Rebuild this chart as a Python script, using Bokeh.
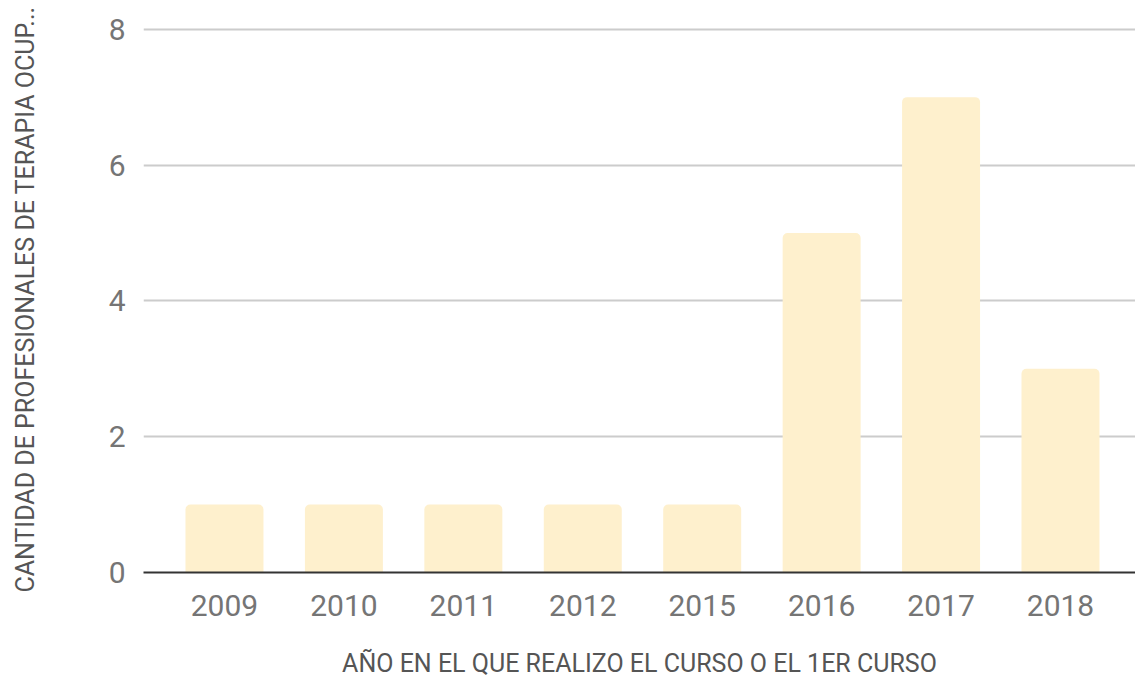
from bokeh.plotting import figure
from bokeh.models import Range1d, FixedTicker, ColumnDataSource
from bokeh.embed import file_html
from bokeh.resources import INLINE

years = ["2009", "2010", "2011", "2012", "2015", "2016", "2017", "2018"]
counts = [1, 1, 1, 1, 1, 5, 7, 3]
y_ticks = [0, 2, 4, 6, 8]
x_title = "AÑO EN EL QUE REALIZO EL CURSO O EL 1ER CURSO"
y_title = "CANTIDAD DE PROFESIONALES DE TERAPIA OCUP..."

idx = list(range(len(years)))
src = ColumnDataSource(dict(x=idx, top=counts, year=years))

p = figure(width=1135, height=680, output_backend="svg", toolbar_location=None,
           x_range=Range1d(-0.678, len(years) - 1 + 0.628), y_range=Range1d(0, 8.04),
           min_border_left=143, min_border_right=0, min_border_top=26, min_border_bottom=108)
p.outline_line_color = None
p.background_fill_color = "white"
p.border_fill_color = "white"

p.vbar(x="x", top="top", width=0.653, bottom=0, source=src,
       fill_color="#FEF0CD", line_color=None, border_radius=(5, 5, 0, 0))

font = "Roboto"
p.xaxis.ticker = FixedTicker(ticks=idx)
p.xaxis.major_label_overrides = {i: y for i, y in zip(idx, years)}
p.yaxis.ticker = FixedTicker(ticks=y_ticks)
for ax in (p.xaxis[0], p.yaxis[0]):
    ax.major_tick_line_color = None
    ax.minor_tick_line_color = None
    ax.major_label_text_font = font
    ax.major_label_text_font_size = "30px"
    ax.major_label_text_color = "#757575"
    ax.axis_label_text_font = font
    ax.axis_label_text_font_size = "25px"
    ax.axis_label_text_font_style = "normal"
    ax.axis_label_text_color = "#555555"
p.xaxis.axis_line_color = "#333333"
p.xaxis.axis_line_width = 2
p.yaxis.axis_line_color = None
p.xaxis.major_label_standoff = 16
p.yaxis.major_label_standoff = 12
p.xaxis.axis_label = x_title
p.yaxis.axis_label = y_title
p.xaxis.axis_label_standoff = 30
p.yaxis.axis_label_standoff = 66

p.xgrid.grid_line_color = None
p.ygrid.grid_line_color = "#CCCCCC"
p.ygrid.grid_line_width = 2
p.ygrid.ticker = FixedTicker(ticks=y_ticks)

open("out.html", "w").write(file_html(p, INLINE))
